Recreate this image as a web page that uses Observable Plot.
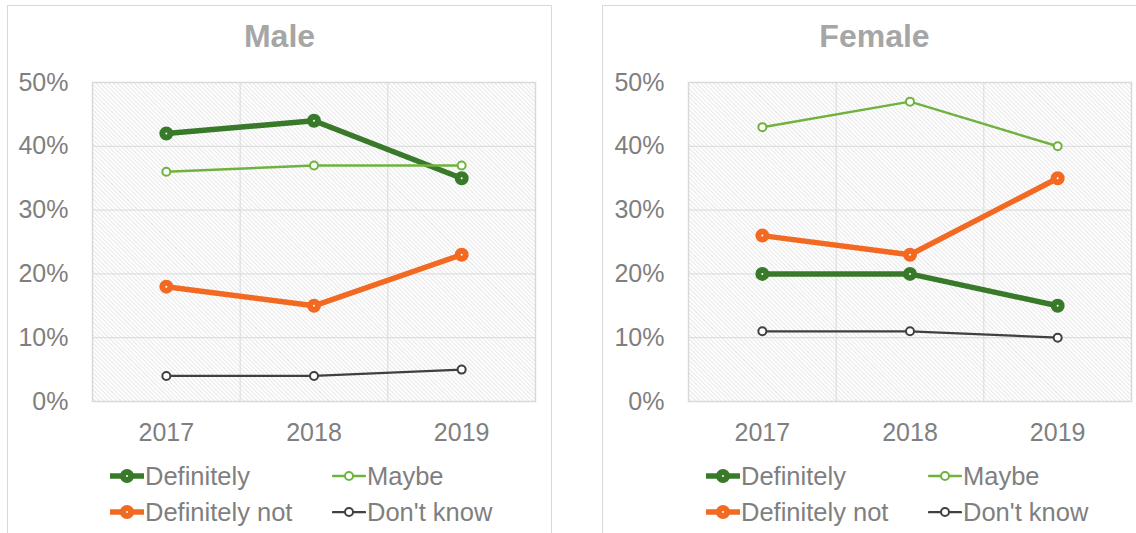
<!DOCTYPE html>
<html>
<head>
<meta charset="utf-8">
<script src="https://cdn.jsdelivr.net/npm/d3@7"></script>
<script src="https://cdn.jsdelivr.net/npm/@observablehq/plot@0.6"></script>
<style>
  html, body { margin: 0; padding: 0; background: #fff; overflow: hidden; }
  #root { position: relative; width: 1136px; height: 533px; overflow: hidden;
          font-family: "Liberation Sans", Arial, sans-serif; }
  .panel { position: absolute; top: 5px; width: 545px; height: 560px;
           border: 1.5px solid #d9d9d9; box-sizing: border-box; }
  .title { position: absolute; top: 20px; width: 545px; text-align: center;
           font-size: 32px; line-height: 32px; font-weight: bold; color: #a6a6a6; }
  .chart { position: absolute; top: 60px; }
  .sw { position: absolute; }
  .lt { position: absolute; font-size: 25.5px; line-height: 25px; color: #7f7f7f; white-space: nowrap; }
</style>
</head>
<body>
<div id="root"></div>
<script>
// ---- data ----
const years = [2017, 2018, 2019];
const series = ["Definitely", "Maybe", "Definitely not", "Don't know"];
const colors = ["#387a2a", "#70b23f", "#f26a22", "#404040"];
const yTicks = [0, 10, 20, 30, 40, 50];
const groups = ["Male", "Female"];

const maleDefinitely    = [42, 44, 35];
const maleMaybe         = [36, 37, 37];
const maleDefinitelyNot = [18, 15, 23];
const maleDontKnow      = [4, 4, 5];

const femaleDefinitely    = [20, 20, 15];
const femaleMaybe         = [43, 47, 40];
const femaleDefinitelyNot = [26, 23, 35];
const femaleDontKnow      = [11, 11, 10];

const groupValues = [
  [maleDefinitely, maleMaybe, maleDefinitelyNot, maleDontKnow],
  [femaleDefinitely, femaleMaybe, femaleDefinitelyNot, femaleDontKnow]
];

// styling per series (thick vs thin)
const lineWidths = [5.5, 2.5, 5.5, 2.25];
const dotStroke  = [6, 2, 6, 2];
const dotR       = [4, 4, 4, 4];

const root = document.getElementById("root");
const panelLeft = [7, 602];
const chartLeft = [0, 596];

groups.forEach((g, gi) => {
  const rows = series.flatMap((s, si) =>
    years.map((y, yi) => ({series: s, year: y, value: groupValues[gi][si][yi]})));
  const bounds = d3.pairs(years).map(([a, b]) => (a + b) / 2);
  const pid = "hatch" + gi;

  const marks = [
    Plot.frame({fill: `url(#${pid})`, stroke: null}),
    Plot.gridY(yTicks.slice(1, -1), {stroke: "#d9d9d9", strokeOpacity: 1, strokeWidth: 1}),
    Plot.ruleX(bounds, {stroke: "#d9d9d9", strokeWidth: 1}),
    Plot.frame({stroke: "#d9d9d9", strokeWidth: 1.5}),
    Plot.axisY(yTicks, {tickSize: 0, tickPadding: 24, tickFormat: d => d + "%", fontSize: 25, fill: "#7f7f7f", label: null}),
    Plot.axisX(years, {tickSize: 0, tickPadding: 22, tickFormat: d => String(d), fontSize: 25, fill: "#7f7f7f", label: null})
  ];
  series.forEach((s, si) => {
    const data = rows.filter(d => d.series === s);
    marks.push(Plot.line(data, {x: "year", y: "value", stroke: "series", strokeWidth: lineWidths[si],
      strokeLinejoin: "round", strokeLinecap: "round"}));
    marks.push(Plot.dot(data, {x: "year", y: "value", r: dotR[si], fill: "white", stroke: "series", strokeWidth: dotStroke[si]}));
  });

  const chart = Plot.plot({
    width: 551, height: 391,
    marginLeft: 92, marginRight: 16, marginTop: 22, marginBottom: 50,
    style: {fontFamily: '"Liberation Sans", Arial, sans-serif', fontSize: "25px", color: "#7f7f7f", background: "transparent", overflow: "visible"},
    x: {type: "linear", domain: [d3.min(years) - 0.5, d3.max(years) + 0.5], label: null},
    y: {domain: [yTicks[0], yTicks[yTicks.length - 1]], label: null},
    color: {domain: series, range: colors},
    marks
  });

  // hatch pattern defs
  const ns = "http://www.w3.org/2000/svg";
  const defs = document.createElementNS(ns, "defs");
  defs.innerHTML = `<pattern id="${pid}" patternUnits="userSpaceOnUse" width="3" height="3" patternTransform="rotate(-45)">
      <rect width="3" height="3" fill="#ffffff"/>
      <line x1="0.5" y1="0" x2="0.5" y2="3" stroke="#e4e4e4" stroke-width="0.9"/>
    </pattern>`;
  chart.insertBefore(defs, chart.firstChild);

  const panel = document.createElement("div");
  panel.className = "panel";
  panel.style.left = panelLeft[gi] + "px";
  root.appendChild(panel);

  const title = document.createElement("div");
  title.className = "title";
  title.style.left = panelLeft[gi] + "px";
  title.textContent = g;
  root.appendChild(title);

  chart.classList.add("chart");
  chart.style.position = "absolute";
  chart.style.left = chartLeft[gi] + "px";
  chart.style.top = "60px";
  root.appendChild(chart);

  // legend
  const off = chartLeft[gi];
  const legendPos = [[110, 476], [332, 476], [110, 512], [332, 512]];
  series.forEach((s, si) => {
    const [lx, ly] = legendPos[si];
    const sw = document.createElementNS(ns, "svg");
    sw.setAttribute("class", "sw");
    sw.setAttribute("width", 34); sw.setAttribute("height", 18);
    sw.style.left = (lx + off) + "px";
    sw.style.top = (ly - 9) + "px";
    sw.innerHTML = `<line x1="1" y1="9" x2="33" y2="9" stroke="${colors[si]}" stroke-width="${lineWidths[si]}" stroke-linecap="round"/>
      <circle cx="17" cy="9" r="${dotR[si]}" fill="white" stroke="${colors[si]}" stroke-width="${dotStroke[si]}"/>`;
    root.appendChild(sw);
    const t = document.createElement("div");
    t.className = "lt";
    t.style.left = (lx + off + 35) + "px";
    t.style.top = (ly - 12) + "px";
    t.textContent = s;
    root.appendChild(t);
  });
});
</script>
</body>
</html>
